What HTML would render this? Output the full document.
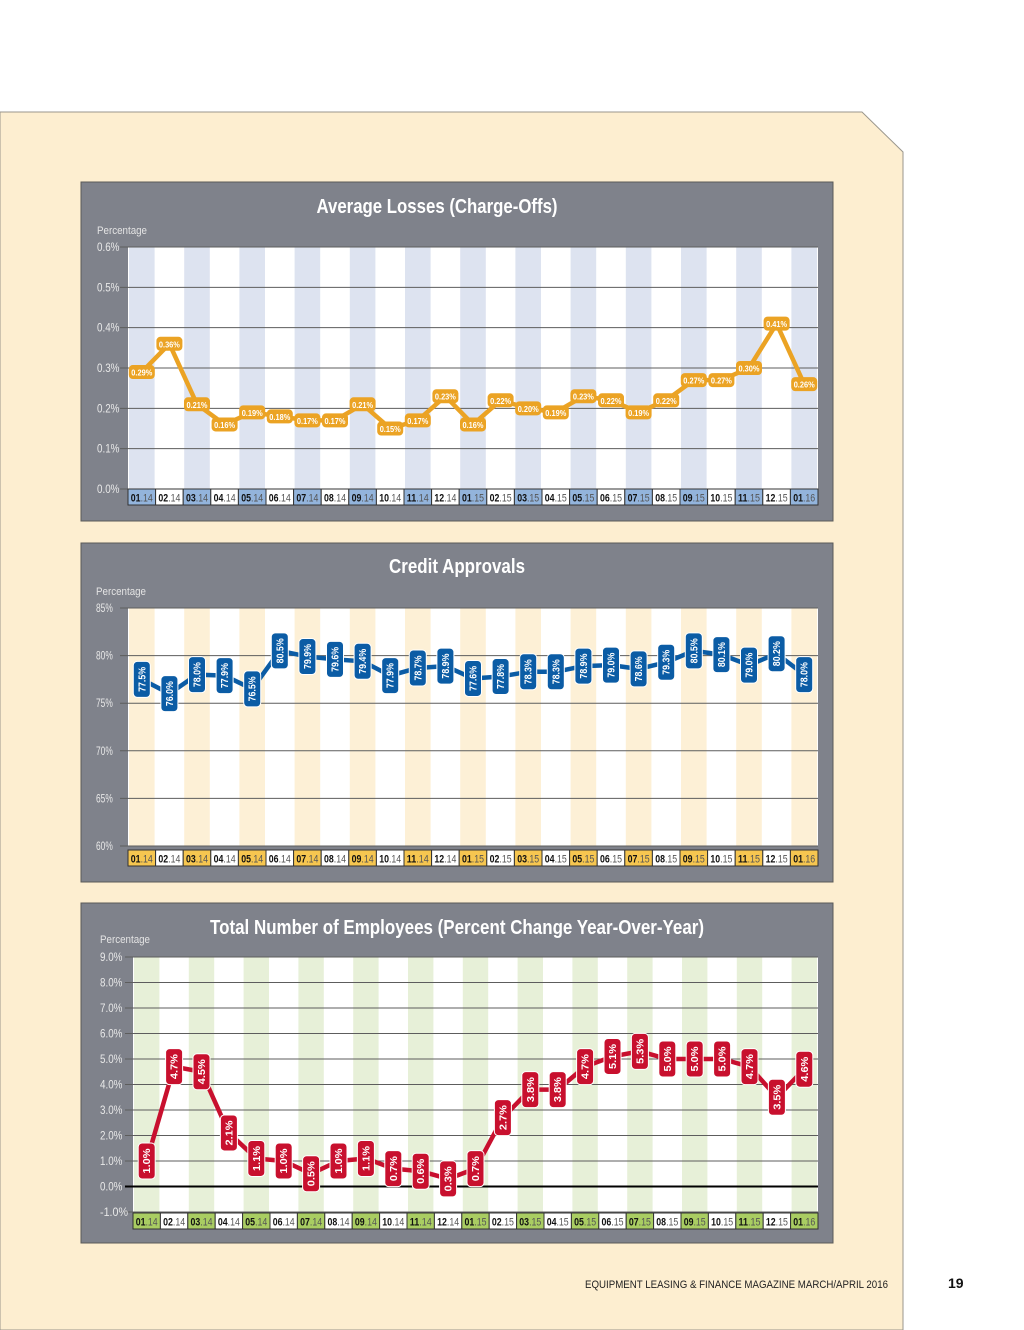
<!DOCTYPE html>
<html><head><meta charset="utf-8"><style>
body{margin:0;background:#fff;width:1024px;height:1330px;overflow:hidden;font-family:"Liberation Sans",sans-serif}
svg{position:absolute;left:0;top:0}
</style></head><body>
<svg id="s" width="1024" height="1330" xmlns="http://www.w3.org/2000/svg">
<polygon points="0,112 862,112 903,152 903,1330 0,1330" fill="#fdeed0" stroke="#9a968c" stroke-width="1"/>
<text x="888" y="1288" font-size="11" text-anchor="end" fill="#222" textLength="303" lengthAdjust="spacingAndGlyphs">EQUIPMENT LEASING &amp; FINANCE MAGAZINE  MARCH/APRIL 2016</text>
<text x="948" y="1288" font-size="14" font-weight="bold" fill="#111">19</text>
</svg>
<script>
const months=["01.14","02.14","03.14","04.14","05.14","06.14","07.14","08.14","09.14","10.14","11.14","12.14","01.15","02.15","03.15","04.15","05.15","06.15","07.15","08.15","09.15","10.15","11.15","12.15","01.16"];
const lossValues=[0.29,0.36,0.21,0.16,0.19,0.18,0.17,0.17,0.21,0.15,0.17,0.23,0.16,0.22,0.20,0.19,0.23,0.22,0.19,0.22,0.27,0.27,0.30,0.41,0.26];
const lossTicks=["0.0%","0.1%","0.2%","0.3%","0.4%","0.5%","0.6%"];
const approvalValues=[77.5,76.0,78.0,77.9,76.5,80.5,79.9,79.6,79.4,77.9,78.7,78.9,77.6,77.8,78.3,78.3,78.9,79.0,78.6,79.3,80.5,80.1,79.0,80.2,78.0];
const approvalTicks=["60%","65%","70%","75%","80%","85%"];
const employeeValues=[1.0,4.7,4.5,2.1,1.1,1.0,0.5,1.0,1.1,0.7,0.6,0.3,0.7,2.7,3.8,3.8,4.7,5.1,5.3,5.0,5.0,5.0,4.7,3.5,4.6];
const employeeTicks=["-1.0%","0.0%","1.0%","2.0%","3.0%","4.0%","5.0%","6.0%","7.0%","8.0%","9.0%"];

const NS="http://www.w3.org/2000/svg",S=document.getElementById('s');
function mk(tag,attrs,parent,txt){const e=document.createElementNS(NS,tag);for(const k in attrs)e.setAttribute(k,attrs[k]);if(txt!==undefined)e.textContent=txt;(parent||S).appendChild(e);return e;}

function chart(c){
  const g=mk('g',{});
  
  
  const box=mk('rect',{x:c.bx,y:c.by,width:752,height:c.bh,fill:'#7f828b',stroke:'#5a5a58'},g);
  
  
  const t=mk('text',{x:c.tx,y:c.ty,'font-size':20,'font-weight':'bold',fill:'#fff','text-anchor':'middle',textLength:c.tw,lengthAdjust:'spacingAndGlyphs'},g,c.title);
  
  
  const yl=mk('text',{x:c.px,y:c.py,'font-size':11,fill:'#e4e4e4',textLength:50,lengthAdjust:'spacingAndGlyphs'},g,'Percentage');
  
  
  const n=months.length,cw=(c.x1-c.x0)/n;
  const ys=v=>c.yTop+(c.vmax-v)/(c.vmax-c.vmin)*(c.yBot-c.yTop);
  const xs=i=>c.x0+cw*(i+0.5);
  mk('rect',{x:c.x0,y:c.yTop,width:c.x1-c.x0,height:c.yBot-c.yTop,fill:'#fff'},g);
  for(let i=0;i<n;i+=2){const r=mk('rect',{x:c.x0+cw*i+1,y:c.yTop,width:cw-2,height:c.yBot-c.yTop,fill:c.stripe},g);
    
    }
  c.ticks.forEach(tk=>{const v=parseFloat(tk),y=ys(v);
    const z=c.zero!==undefined&&v===c.zero;
    const l=mk('line',{x1:c.x0-8,x2:c.x1,y1:y,y2:y,stroke:z?'#000':'#5d5d5d','stroke-width':z?2:1},g);
    
    
    const tt=mk('text',{x:c.lx,y:y+4,'font-size':12,fill:'#e8e8e8',textLength:tk.length*5.6,lengthAdjust:'spacingAndGlyphs'},g,tk);
    
    });
  months.forEach((m,i)=>{const x=c.x0+cw*i;
    const r=mk('rect',{x:x,y:c.ay,width:cw,height:16,fill:i%2===0?c.lab:'#fff',stroke:'#333','stroke-width':1},g);
    
    
    const p=m.split('.');
    const tx=mk('text',{x:x+cw/2,y:c.ay+12.5,'font-size':11,'text-anchor':'middle',fill:'#111',textLength:22,lengthAdjust:'spacingAndGlyphs'},g);
    
    
    mk('tspan',{'font-weight':'bold'},tx,p[0]);mk('tspan',{fill:'#555'},tx,'.'+p[1]);});
  const pts=c.values.map((v,i)=>xs(i)+','+ys(v)).join(' ');
  const pl=mk('polyline',{points:pts,fill:'none',stroke:c.color,'stroke-width':4.5,'stroke-linejoin':'round'},g);
  
  
  c.values.forEach((v,i)=>{const x=xs(i),y=ys(v);
    const lbl=v.toFixed(c.dec)+'%';
    const pg=mk('g',{},g);
    
    
    if(c.rot){mk('rect',{x:x-8.5,y:y-18,width:17,height:36,rx:4,fill:c.color,stroke:'#fff','stroke-width':1},pg);
      mk('text',{x:0,y:0,'font-size':10,'font-weight':'bold',fill:'#fff','text-anchor':'middle',textLength:25,lengthAdjust:'spacingAndGlyphs',transform:`translate(${x+3.5},${y}) rotate(-90)`},pg,lbl);}
    else{mk('rect',{x:x-13,y:y-7,width:26,height:14,rx:4,fill:c.color},pg);
      mk('text',{x:x,y:y+3.5,'font-size':8.5,'font-weight':'bold',fill:'#fff','text-anchor':'middle',textLength:21,lengthAdjust:'spacingAndGlyphs'},pg,lbl);}
  });
}
chart({name:'average-losses-chart',bx:81,by:182,bh:339,title:'Average Losses (Charge-Offs)',tx:437,ty:213,tw:241,px:97,py:234,lx:97,
  x0:128,x1:818,yTop:247,yBot:489,vmin:0,vmax:0.6,ticks:lossTicks,ay:489,values:lossValues,dec:2,color:'#eba324',stripe:'#dde3f0',lab:'#93b4dc',rot:false});
chart({name:'credit-approvals-chart',bx:81,by:543,bh:339,title:'Credit Approvals',tx:457,ty:573,tw:136,px:96,py:595,lx:96,
  x0:128,x1:818,yTop:608,yBot:846,vmin:60,vmax:85,ticks:approvalTicks,ay:850,values:approvalValues,dec:1,color:'#0b5ca5',stripe:'#fdf0d6',lab:'#f6c650',rot:true});
chart({name:'employees-chart',bx:81,by:903,bh:340,title:'Total Number of Employees (Percent Change Year-Over-Year)',tx:457,ty:934,tw:494,px:100,py:943,lx:100,
  x0:133,x1:818,yTop:957,yBot:1212,vmin:-1,vmax:9,ticks:employeeTicks,ay:1213,values:employeeValues,dec:1,color:'#c8102e',stripe:'#e7f0d8',lab:'#a9cd62',rot:true,zero:0});
</script>
</body></html>
